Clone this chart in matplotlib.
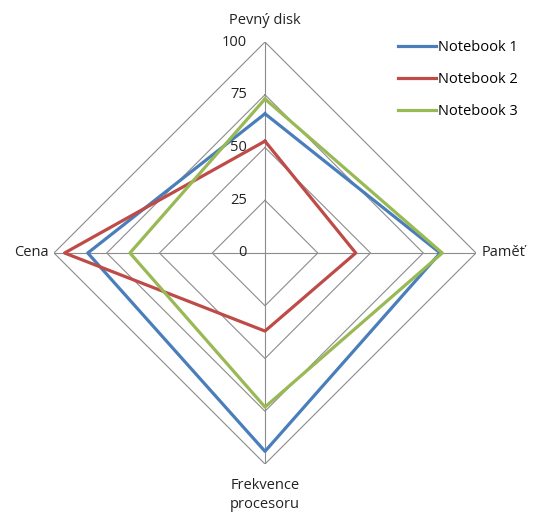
import numpy as np
import matplotlib
matplotlib.use("Agg")
import matplotlib.pyplot as plt

# data
CATEGORIES = ["Pevný disk", "Paměť", "Frekvence\nprocesoru", "Cena"]
NB1 = [66, 83, 94, 84]
NB2 = [53, 43, 37, 95]
NB3 = [73, 84, 73, 64]
SERIES = ["Notebook 1", "Notebook 2", "Notebook 3"]
COLORS = ["#4a7ebb", "#be4b48", "#98b954"]
RTICKS = [0, 25, 50, 75, 100]

GRID = "#8c8c8c"
INK = "#222222"

plt.rcParams["font.family"] = ["Open Sans", "DejaVu Sans"]

fig = plt.figure(figsize=(5.33, 5.13), dpi=100)
ax = fig.add_axes([54 / 533, 49 / 513, 422 / 533, 422 / 513], projection="polar")
ax.set_theta_offset(np.pi / 2)
ax.set_theta_direction(-1)
ax.set_ylim(0, 100)
ax.grid(False)
ax.spines["polar"].set_visible(False)
ax.set_xticks([])
ax.set_yticks([])
ax.patch.set_alpha(0)

theta = np.arange(len(CATEGORIES)) * 2 * np.pi / len(CATEGORIES)
closed = np.append(theta, theta[0])

# straight-edged grid rings and spokes
for r in RTICKS[1:]:
    ax.plot(closed, [r] * len(closed), color=GRID, lw=0.8, zorder=1)
for t in theta:
    ax.plot([t, t], [0, 100], color=GRID, lw=0.8, zorder=1)

for name, vals, col in zip(SERIES, [NB1, NB2, NB3], COLORS):
    ax.plot(closed, vals + vals[:1], color=col, lw=2.3, label=name, zorder=3)

# radial tick labels
for r in RTICKS:
    ax.annotate(str(r), (0, r), textcoords="offset pixels", xytext=(-18, 0),
                ha="right", va="center", fontsize=10.5, color=INK)

# category labels
offsets = [((0, 22), "center", "center"), ((6, 0), "left", "center"),
           ((0, -14), "center", "top"), ((-5, 0), "right", "center")]
for t, lab, (off, ha, va) in zip(theta, CATEGORIES, offsets):
    ax.annotate(lab, (t, 100), textcoords="offset pixels", xytext=off,
                ha=ha, va=va, fontsize=10.5, color=INK, linespacing=1.35)

leg = fig.legend(loc="upper left", bbox_to_anchor=(385 / 533, 1 - 27 / 513),
                 frameon=False, fontsize=10.5, handlelength=2.6, handletextpad=0.1,
                 labelspacing=1.15)

fig.savefig("out.png", dpi=100)
